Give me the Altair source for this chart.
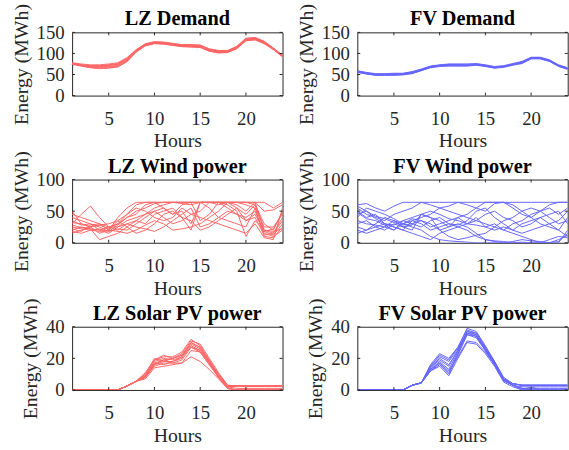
import altair as alt
import pandas as pd

hours = list(range(1, 25))
x_ticks = [5, 10, 15, 20]

lz_demand = [
    [77, 73, 71, 71, 73, 76, 88, 108, 122, 127, 126, 123, 120, 120, 119, 110, 106, 106, 116, 135, 137, 128, 112, 95],
    [75, 71, 68, 67, 68, 71, 83, 104, 119, 124, 123, 120, 117, 116, 115, 106, 102, 103, 112, 131, 133, 124, 110, 93],
    [76, 72, 70, 69, 71, 74, 86, 107, 121, 126, 125, 122, 119, 118, 118, 109, 105, 105, 115, 134, 136, 127, 111, 94],
    [74, 70, 66, 64, 65, 68, 80, 103, 118, 123, 122, 119, 116, 115, 114, 105, 101, 102, 111, 130, 132, 123, 109, 92],
    [78, 75, 73, 73, 75, 78, 90, 109, 123, 128, 127, 124, 121, 121, 120, 111, 107, 107, 117, 136, 138, 129, 113, 96],
    [75, 72, 69, 68, 69, 72, 84, 105, 120, 125, 124, 121, 118, 117, 116, 107, 103, 104, 113, 132, 134, 125, 110, 93],
    [76, 71, 67, 65, 66, 69, 82, 104, 119, 124, 123, 120, 117, 117, 116, 107, 103, 103, 113, 132, 134, 125, 111, 94],
    [77, 73, 70, 70, 72, 75, 87, 107, 121, 126, 125, 122, 119, 119, 118, 109, 105, 106, 115, 134, 136, 127, 112, 95],
]

fv_demand = [
    [59, 55, 52, 52, 53, 53, 57, 63, 70, 73, 75, 75, 75, 76, 73, 69, 71, 76, 81, 91, 91, 85, 73, 66],
    [55, 51, 48, 48, 48, 49, 52, 59, 66, 69, 70, 70, 70, 72, 69, 65, 67, 72, 76, 87, 87, 81, 69, 62],
    [57, 53, 50, 50, 51, 52, 55, 61, 69, 72, 73, 73, 72, 74, 71, 67, 69, 74, 79, 89, 90, 83, 71, 64],
    [56, 52, 49, 49, 49, 50, 53, 60, 67, 70, 71, 71, 71, 73, 70, 66, 68, 73, 77, 88, 88, 82, 70, 63],
    [58, 54, 51, 51, 52, 52, 56, 62, 69, 72, 74, 74, 74, 75, 72, 68, 70, 75, 80, 90, 90, 84, 72, 65],
    [57, 53, 50, 50, 50, 51, 54, 61, 68, 71, 72, 72, 72, 74, 71, 67, 69, 74, 78, 89, 89, 83, 71, 64],
    [56, 52, 49, 50, 50, 51, 54, 60, 68, 71, 72, 73, 72, 73, 70, 66, 69, 74, 78, 88, 89, 83, 71, 64],
]

lz_wind = [
    [25, 22, 20, 18, 20, 35, 45, 60, 64, 64, 64, 64, 64, 64, 64, 64, 64, 64, 64, 64, 64, 50, 52, 60],
    [50, 30, 25, 28, 22, 30, 40, 50, 55, 62, 64, 64, 62, 60, 64, 64, 60, 64, 60, 50, 64, 20, 15, 40],
    [30, 45, 58, 40, 25, 20, 30, 35, 45, 55, 60, 64, 64, 64, 64, 64, 64, 64, 55, 45, 60, 18, 12, 30],
    [20, 25, 22, 5, 10, 15, 25, 35, 30, 45, 50, 55, 40, 20, 64, 55, 40, 35, 30, 25, 55, 10, 8, 25],
    [35, 28, 30, 25, 18, 22, 20, 30, 40, 50, 55, 45, 60, 64, 35, 45, 64, 64, 64, 64, 60, 30, 20, 50],
    [15, 20, 25, 15, 20, 40, 55, 64, 64, 64, 55, 45, 50, 30, 64, 64, 64, 55, 45, 40, 50, 15, 10, 20],
    [40, 35, 30, 20, 25, 25, 30, 25, 22, 18, 25, 35, 45, 55, 25, 30, 40, 50, 45, 35, 40, 12, 15, 35],
    [22, 18, 28, 30, 20, 18, 15, 20, 28, 35, 30, 20, 22, 25, 30, 40, 50, 64, 64, 60, 55, 25, 25, 45],
    [28, 24, 22, 20, 15, 25, 35, 40, 45, 50, 40, 30, 35, 45, 50, 64, 64, 60, 50, 10, 35, 20, 18, 22],
    [45, 40, 35, 30, 25, 30, 45, 55, 50, 40, 35, 40, 55, 45, 40, 35, 30, 25, 20, 15, 30, 8, 5, 55],
    [18, 15, 20, 22, 18, 28, 40, 45, 60, 64, 64, 64, 64, 64, 64, 64, 64, 64, 64, 64, 64, 64, 55, 64],
    [32, 30, 25, 28, 30, 35, 25, 15, 20, 30, 45, 50, 40, 35, 20, 25, 35, 45, 55, 35, 45, 18, 22, 48],
]

fv_wind = [
    [60, 62, 55, 50, 58, 64, 64, 64, 64, 64, 64, 64, 64, 64, 64, 64, 64, 64, 64, 64, 64, 64, 64, 64],
    [55, 45, 40, 35, 45, 50, 55, 64, 60, 55, 58, 64, 60, 55, 50, 62, 64, 55, 45, 40, 50, 55, 45, 55],
    [45, 50, 38, 30, 25, 20, 35, 30, 20, 25, 30, 28, 35, 50, 55, 40, 30, 20, 15, 20, 25, 30, 35, 50],
    [30, 35, 25, 20, 30, 25, 28, 45, 40, 20, 25, 30, 25, 15, 5, 2, 0, 0, 0, 0, 0, 0, 2, 15],
    [50, 40, 45, 30, 28, 35, 30, 25, 35, 40, 30, 25, 20, 10, 5, 3, 2, 0, 1, 0, 0, 5, 10, 8],
    [20, 15, 20, 25, 35, 30, 38, 35, 25, 30, 35, 40, 45, 55, 64, 64, 64, 60, 50, 40, 30, 25, 20, 40],
    [35, 30, 28, 25, 20, 30, 25, 20, 10, 5, 3, 2, 1, 0, 0, 0, 0, 2, 5, 3, 2, 0, 5, 12],
    [25, 20, 30, 40, 35, 25, 20, 45, 40, 35, 25, 40, 30, 35, 45, 50, 40, 35, 25, 30, 40, 45, 50, 30],
    [40, 55, 50, 45, 38, 30, 35, 40, 45, 55, 50, 45, 40, 35, 30, 25, 20, 30, 35, 45, 50, 60, 64, 64],
    [58, 50, 42, 38, 32, 28, 30, 35, 30, 20, 10, 5, 8, 12, 15, 25, 35, 40, 50, 55, 50, 40, 30, 35],
    [15, 20, 25, 30, 25, 20, 15, 10, 5, 15, 20, 25, 30, 28, 25, 30, 20, 15, 10, 5, 0, 0, 0, 20],
    [48, 38, 35, 28, 20, 35, 40, 45, 50, 45, 38, 35, 30, 40, 25, 20, 25, 20, 30, 35, 40, 30, 20, 10],
]

lz_solar = [
    [0, 0, 0, 0, 0, 0, 2.5, 5.5, 10, 19, 21, 21, 24, 32, 28, 19, 10, 3, 2.5, 2.5, 2.5, 2.5, 2.5, 2.5],
    [0, 0, 0, 0, 0, 0, 2.5, 5.5, 9, 17, 19, 20, 22, 30, 27, 18, 9, 2, 2.5, 2.5, 2.5, 2.5, 2.5, 2.5],
    [0, 0, 0, 0, 0, 0, 2.5, 5.5, 8, 15, 17, 17, 19, 27, 25, 17, 8, 1, 0, 0, 0, 0, 0, 0],
    [0, 0, 0, 0, 0, 0, 2.5, 5.5, 7, 14, 15, 16, 17, 21, 18, 13, 7, 1, 0, 0, 0, 0, 0, 0],
    [0, 0, 0, 0, 0, 0, 2.5, 5.5, 9, 18, 20, 19, 21, 29, 26, 18, 9, 2, 2.5, 2.5, 2.5, 2.5, 2.5, 2.5],
    [0, 0, 0, 0, 0, 0, 2.5, 5.5, 10, 20, 18, 20, 23, 31, 29, 20, 11, 3, 2.5, 2.5, 2.5, 2.5, 2.5, 2.5],
    [0, 0, 0, 0, 0, 0, 2.5, 5.5, 8, 16, 18, 18, 20, 28, 25, 17, 8, 1, 0, 0, 0, 0, 0, 0],
    [0, 0, 0, 0, 0, 0, 2.5, 5.5, 9, 17, 16, 18, 21, 30, 27, 18, 10, 2, 1, 1, 1, 1, 1, 1],
    [0, 0, 0, 0, 0, 0, 2.5, 5.5, 11, 19, 22, 20, 22, 27, 24, 16, 8, 1, 0, 0, 0, 0, 0, 0],
    [0, 0, 0, 0, 0, 0, 2.5, 5.5, 8, 16, 19, 17, 17, 25, 24, 16, 8, 2, 2.5, 2.5, 2.5, 2.5, 2.5, 2.5],
]

fv_solar = [
    [0, 0, 0, 0, 0, 0, 3, 4.5, 15, 22, 19, 27, 38, 36, 27, 18, 7, 4, 3, 3, 3, 3, 3, 3],
    [0, 0, 0, 0, 0, 0, 3, 4.5, 14, 20, 16, 25, 37, 35, 26, 17, 7, 3, 1, 0, 0, 0, 0, 0],
    [0, 0, 0, 0, 0, 0, 3, 4.5, 13, 18, 13, 24, 36, 34, 25, 17, 6, 3, 2, 2, 2, 2, 2, 2],
    [0, 0, 0, 0, 0, 0, 3, 4.5, 12, 16, 10, 22, 35, 33, 25, 16, 6, 3, 0, 2, 0, 0, 0, 0],
    [0, 0, 0, 0, 0, 0, 3, 4.5, 15, 21, 18, 26, 36, 35, 26, 17, 7, 4, 3, 3, 3, 3, 3, 3],
    [0, 0, 0, 0, 0, 0, 3, 4.5, 12, 15, 9, 20, 30, 29, 23, 15, 5, 2, 0, 0, 0, 0, 0, 0],
    [0, 0, 0, 0, 0, 0, 3, 4.5, 13, 17, 12, 21, 31, 30, 24, 16, 6, 3, 1, 0, 0, 0, 0, 0],
    [0, 0, 0, 0, 0, 0, 3, 4.5, 14, 19, 15, 25, 37, 36, 27, 18, 7, 4, 3, 3, 3, 3, 3, 3],
    [0, 0, 0, 0, 0, 0, 3, 4.5, 16, 23, 20, 27, 39, 37, 28, 18, 8, 4, 3, 3, 3, 3, 3, 3],
    [0, 0, 0, 0, 0, 0, 3, 4.5, 12, 17, 11, 23, 35, 34, 25, 16, 6, 3, 1, 1, 1, 1, 1, 1],
]

titles = ["LZ Demand", "FV Demand", "LZ Wind power", "FV Wind power",
          "LZ Solar PV power", "FV Solar PV power"]

RED = "#ff6666"
BLUE = "#6666ff"
AX = "#262626"
FONT = "Liberation Serif"
W, H = 213, 64
TL = 3  # inward tick length


def panel(title, series, color, ymax, yticks):
    rows = []
    for i, s in enumerate(series):
        for h, v in zip(hours, s):
            rows.append({"h": h, "v": v, "s": i})
    df = pd.DataFrame(rows)
    xs = alt.Scale(domain=[1, 24], nice=False, zero=False)
    ys = alt.Scale(domain=[0, ymax], nice=False, zero=False)
    xa = alt.Axis(values=x_ticks, title="Hours", labelFont=FONT, titleFont=FONT,
                  labelPadding=14, titlePadding=3)
    ya = alt.Axis(values=yticks, title="Energy (MWh)", labelFont=FONT, titleFont=FONT,
                  labelPadding=8, titlePadding=5)
    lines = alt.Chart(df).mark_line(color=color, strokeWidth=1, clip=True).encode(
        x=alt.X("h:Q", scale=xs, axis=xa),
        y=alt.Y("v:Q", scale=ys, axis=ya),
        detail="s:N",
    )
    xt = pd.DataFrame({"h": x_ticks})
    yt = pd.DataFrame({"v": yticks})
    top_t = alt.Chart(xt).mark_rule(color=AX, strokeWidth=1).encode(
        x=alt.X("h:Q", scale=xs, axis=xa), y=alt.value(0), y2=alt.value(TL))
    bot_t = alt.Chart(xt).mark_rule(color=AX, strokeWidth=1).encode(
        x=alt.X("h:Q", scale=xs, axis=xa), y=alt.value(H), y2=alt.value(H - TL))
    left_t = alt.Chart(yt).mark_rule(color=AX, strokeWidth=1).encode(
        y=alt.Y("v:Q", scale=ys, axis=ya), x=alt.value(0), x2=alt.value(TL))
    right_t = alt.Chart(yt).mark_rule(color=AX, strokeWidth=1).encode(
        y=alt.Y("v:Q", scale=ys, axis=ya), x=alt.value(W), x2=alt.value(W - TL))
    ttl = alt.Chart(pd.DataFrame({"t": [title]})).mark_text(
        font=FONT, fontSize=20.5, fontWeight="bold", color="black",
        align="center", baseline="alphabetic",
    ).encode(text="t:N", x=alt.value(W / 2), y=alt.value(-7))
    return alt.layer(lines, top_t, bot_t, left_t, right_t, ttl).properties(
        width=W, height=H)


charts = [
    panel(titles[0], lz_demand, RED, 150, [0, 50, 100, 150]),
    panel(titles[1], fv_demand, BLUE, 150, [0, 50, 100, 150]),
    panel(titles[2], lz_wind, RED, 100, [0, 50, 100]),
    panel(titles[3], fv_wind, BLUE, 100, [0, 50, 100]),
    panel(titles[4], lz_solar, RED, 40, [0, 20, 40]),
    panel(titles[5], fv_solar, BLUE, 40, [0, 20, 40]),
]

chart = alt.concat(
    *charts, columns=2, spacing={"row": 85, "column": 75.7}, bounds="flush"
).properties(
    padding={"left": 11, "top": 0, "right": 0, "bottom": 0},
    background="white",
).configure_view(
    stroke=AX, strokeWidth=1
).configure_axis(
    grid=False, domain=False, ticks=False, tickSize=0,
    labelFont=FONT, labelFontSize=19, labelColor=AX,
    titleFont=FONT, titleFontSize=20, titleColor=AX, titleFontWeight="normal",
)

chart.save("out.html", embed_options={"renderer": "svg", "actions": False})
